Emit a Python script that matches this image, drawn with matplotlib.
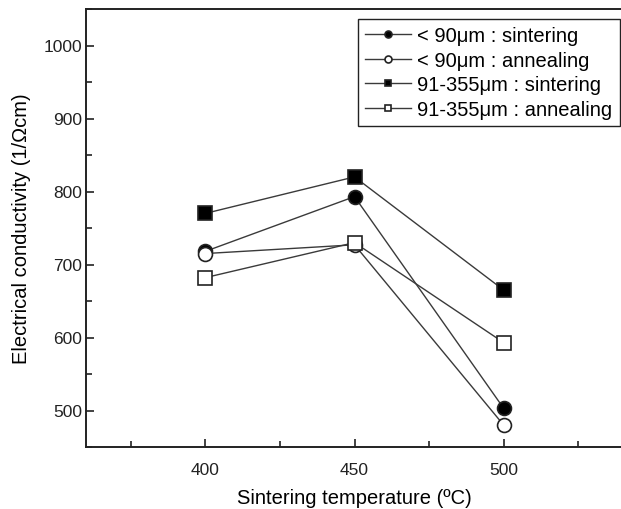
import matplotlib
matplotlib.use('Agg')
import matplotlib.pyplot as plt
from matplotlib.ticker import MultipleLocator

plt.rcParams['font.family'] = ['Liberation Sans', 'DejaVu Sans']

# Data
temperature = [400, 450, 500]
fine_sintering = [718, 793, 503]
fine_annealing = [715, 727, 480]
coarse_sintering = [770, 820, 665]
coarse_annealing = [682, 730, 593]

labels = ['< 90\u03bcm : sintering', '< 90\u03bcm : annealing',
          '91-355\u03bcm : sintering', '91-355\u03bcm : annealing']

LINE_COLOR = '#3a3a3a'
TICK_FONTSIZE = 12.5
LABEL_FONTSIZE = 14.5
LEGEND_FONTSIZE = 14.5

fig = plt.figure(figsize=(6.21, 5.10), dpi=100)
ax = fig.add_axes([86 / 621, 62 / 510, 537 / 621, 438 / 510])

series = [
    (fine_sintering, 'o', 'black'),
    (fine_annealing, 'o', 'white'),
    (coarse_sintering, 's', 'black'),
    (coarse_annealing, 's', 'white'),
]
for (values, marker, face), label in zip(series, labels):
    ax.plot(temperature, values, color=LINE_COLOR, linewidth=1.0,
            marker=marker, markersize=10 if marker == 'o' else 9.5,
            markerfacecolor=face, markeredgecolor='#222222',
            markeredgewidth=1.2, label=label)

ax.set_xlim(360, 540)
ax.set_ylim(450, 1050)
ax.xaxis.set_major_locator(MultipleLocator(50))
ax.xaxis.set_minor_locator(MultipleLocator(25))
ax.yaxis.set_major_locator(MultipleLocator(100))
ax.yaxis.set_minor_locator(MultipleLocator(50))
ax.tick_params(which='both', direction='in', top=False, right=False,
               labelsize=TICK_FONTSIZE, width=1.2, colors='#222222')
ax.tick_params(which='major', length=6)
ax.tick_params(which='minor', length=4)
ax.tick_params(axis='x', which='major', pad=11)
ax.tick_params(axis='y', which='major', pad=3)

for side in ['left', 'bottom', 'top']:
    ax.spines[side].set_linewidth(1.4)
    ax.spines[side].set_color('#222222')
ax.spines['right'].set_visible(False)

ax.set_xlabel('Sintering temperature (\u00baC)', fontsize=LABEL_FONTSIZE, labelpad=8)
ax.set_ylabel('Electrical conductivity (1/\u03a9cm)', fontsize=LABEL_FONTSIZE, labelpad=9)

leg = ax.legend(loc='upper left', bbox_to_anchor=(358 / 621, 1 - 20 / 510),
                bbox_transform=fig.transFigure, fontsize=LEGEND_FONTSIZE,
                fancybox=False, framealpha=1, edgecolor='#222222',
                markerscale=0.5, handlelength=2.3, handletextpad=0.3,
                labelspacing=0.28, borderpad=0.35, borderaxespad=0)
leg.get_frame().set_linewidth(1.0)

plt.savefig('out.png', dpi=100)
plt.close()
